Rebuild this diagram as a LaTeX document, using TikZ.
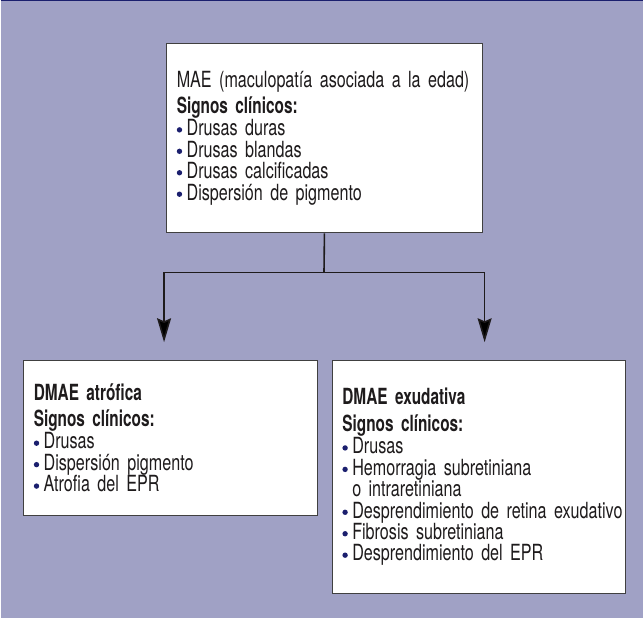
\documentclass[tikz,border=0pt]{standalone}
\usepackage{fontspec}
\setmainfont{TeX Gyre Heros}[FakeStretch=0.725, BoldFeatures={FakeStretch=0.69}]
\usetikzlibrary{arrows.meta}
\definecolor{bgc}{RGB}{160,161,197}
\definecolor{navy}{RGB}{27,31,110}
\definecolor{ink}{RGB}{30,27,28}
\newcommand{\mybul}{\tikz[x=1pt,y=1pt,baseline=0pt]\fill[navy] (2.7,5.8) circle[radius=2.7];\hspace{4.5pt}}
\newcommand{\myind}{\hspace{9.9pt}}
\begin{document}
\lineskiplimit=-30pt
\lineskip=0pt
\spaceskip=4.3pt plus 1pt minus 0.5pt
\xspaceskip=4.3pt plus 1pt minus 0.5pt
\begin{tikzpicture}[x=1pt,y=-1pt,
  box/.style={draw=black!75, line width=0.9pt, fill=white, anchor=north west,
    inner xsep=10pt, inner ysep=0pt, align=left, text=ink,
    font=\fontsize{22.3}{21.5}\selectfont},
  conn/.style={draw=ink, line width=1.6pt},
  tip/.style={-{Stealth[length=24pt,width=14pt,inset=3pt]}}
]
\fill[bgc] (0,0) rectangle (644,619);
\draw[navy, line width=1.5pt] (0,0.75) -- (644,0.75);
\useasboundingbox (0,0) rectangle (644,619);

\node[box, minimum width=316pt, minimum height=190pt, text width=296pt] (top) at (166,43)
{MAE (maculopatía asociada a la edad)\\[3pt]
\textbf{Signos clínicos:}\\[1pt]
\mybul Drusas duras\\
\mybul Drusas blandas\\
\mybul Drusas calcificadas\\
\mybul Dispersión de pigmento};

\node[box, minimum width=294pt, minimum height=155.3pt, text width=274pt] (left) at (22.7,360.7)
{\textbf{DMAE atrófica}\\[5pt]
\textbf{Signos clínicos:}\\[1pt]
\mybul Drusas\\
\mybul Dispersión pigmento\\
\mybul Atrofia del EPR};

\node[box, minimum width=294pt, minimum height=234pt, text width=274pt] (right) at (332,360.7)
{\textbf{DMAE exudativa}\\[5pt]
\textbf{Signos clínicos:}\\[1pt]
\mybul Drusas\\
\mybul Hemorragia subretiniana\\
\myind o intraretiniana\\
\mbox{\mybul Desprendimiento de retina exudativo}\\
\mybul Fibrosis subretiniana\\
\mybul Desprendimiento del EPR};

\coordinate (hl) at (324,273);
\coordinate (a1) at (163.7,343);
\coordinate (a2) at (485,343);
\draw[conn] (top.south) -- (hl);
\draw[conn, tip] (hl) -| (a1);
\draw[conn, tip] (hl) -| (a2);
\end{tikzpicture}
\end{document}
